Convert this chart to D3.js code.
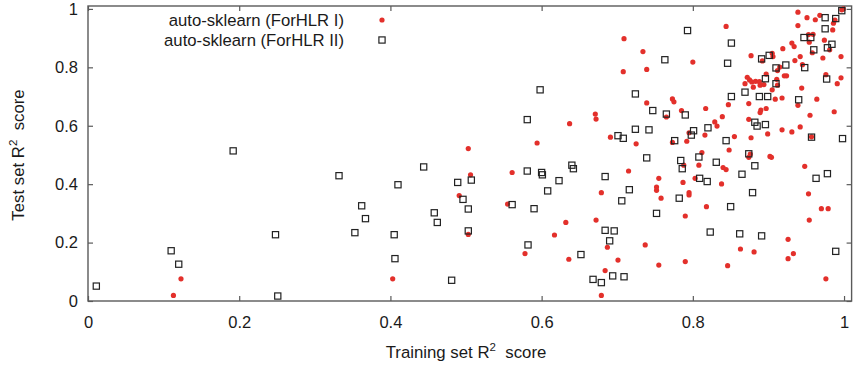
<!DOCTYPE html>
<html>
<head>
<meta charset="utf-8">
<script src="https://cdn.jsdelivr.net/npm/d3@7"></script>
<style>
  html, body { margin: 0; padding: 0; background: #fff; }
  svg { display: block; font-family: "Liberation Sans", Arial, sans-serif; }
</style>
</head>
<body>
<svg id="chart" width="857" height="365"></svg>
<script>
// ---- data ----
const seriesNames = ["auto-sklearn (ForHLR I)", "auto-sklearn (ForHLR II)"];
const tickValues = [0, 0.2, 0.4, 0.6, 0.8, 1];
const tickLabels = ["0", "0.2", "0.4", "0.6", "0.8", "1"];
const xTitle = ["Training set R", "2", " score"];
const yTitle = ["Test set R", "2", " score"];

// ForHLR I : [training R2, test R2]
const forhlr1 = [
  [0.123,0.076],[0.113,0.019],[0.594,0.541],[0.503,0.522],[0.506,0.432],[0.561,0.440],
  [0.491,0.361],[0.555,0.332],[0.503,0.228],[0.617,0.226],[0.578,0.162],[0.403,0.076],
  [0.709,0.898],[0.734,0.854],[0.800,0.818],[0.708,0.785],[0.739,0.793],[0.739,0.678],
  [0.773,0.692],[0.775,0.682],[0.785,0.652],[0.765,0.630],[0.671,0.640],[0.672,0.623],
  [0.637,0.607],[0.691,0.561],[0.725,0.538],[0.795,0.576],[0.773,0.543],[0.792,0.547],
  [0.788,0.465],[0.808,0.465],[0.715,0.445],[0.679,0.371],[0.755,0.420],[0.752,0.390],
  [0.752,0.379],[0.758,0.352],[0.787,0.406],[0.803,0.420],[0.795,0.371],[0.795,0.363],
  [0.790,0.291],[0.632,0.269],[0.672,0.277],[0.687,0.184],[0.737,0.192],[0.636,0.143],
  [0.701,0.140],[0.755,0.123],[0.790,0.135],[0.684,0.104],[0.679,0.019],[0.939,0.989],
  [0.951,0.970],[0.968,0.978],[0.962,0.963],[0.988,0.962],[0.986,0.951],[0.997,0.997],
  [0.999,1.000],[0.939,0.943],[0.985,0.928],[0.844,0.940],[0.877,0.840],[0.892,0.822],
  [0.905,0.848],[0.906,0.837],[0.953,0.912],[0.959,0.913],[0.954,0.886],[0.931,0.883],
  [0.934,0.871],[0.919,0.864],[0.958,0.850],[0.974,0.893],[0.981,0.860],[0.942,0.837],
  [0.972,0.832],[0.996,0.837],[0.935,0.823],[0.945,0.809],[0.915,0.801],[0.912,0.789],
  [0.897,0.777],[0.911,0.759],[0.924,0.771],[0.921,0.771],[0.976,0.775],[0.996,0.764],
  [0.991,0.744],[0.872,0.766],[0.875,0.757],[0.869,0.744],[0.878,0.750],[0.883,0.752],
  [0.880,0.732],[0.888,0.751],[0.889,0.739],[0.894,0.741],[0.912,0.739],[0.905,0.723],
  [0.944,0.729],[0.847,0.672],[0.909,0.691],[0.918,0.695],[0.964,0.691],[0.874,0.676],
  [0.817,0.659],[0.890,0.654],[0.889,0.645],[0.897,0.659],[0.839,0.631],[0.987,0.648],
  [0.955,0.636],[0.874,0.622],[0.829,0.613],[0.832,0.599],[0.816,0.568],[0.918,0.586],
  [0.931,0.579],[0.942,0.596],[0.957,0.562],[0.855,0.563],[0.877,0.559],[0.899,0.572],
  [0.848,0.517],[0.812,0.508],[0.876,0.503],[0.874,0.492],[0.902,0.495],[0.904,0.492],
  [0.948,0.461],[0.840,0.457],[0.844,0.450],[0.838,0.401],[0.953,0.367],[0.818,0.323],
  [0.970,0.316],[0.979,0.316],[0.954,0.277],[0.926,0.211],[0.863,0.178],[0.881,0.168],
  [0.933,0.162],[0.926,0.145],[0.846,0.121],[0.976,0.076],[0.939,0.670]
];

// ForHLR II : [training R2, test R2]
const forhlr2 = [
  [0.011,0.051],[0.110,0.172],[0.120,0.126],[0.192,0.514],[0.248,0.227],[0.251,0.017],
  [0.598,0.723],[0.581,0.621],[0.444,0.459],[0.332,0.429],[0.507,0.414],[0.489,0.406],
  [0.581,0.445],[0.600,0.440],[0.601,0.432],[0.623,0.412],[0.410,0.398],[0.496,0.348],
  [0.608,0.377],[0.362,0.326],[0.503,0.315],[0.561,0.330],[0.590,0.316],[0.458,0.302],
  [0.367,0.282],[0.462,0.269],[0.353,0.234],[0.405,0.227],[0.503,0.240],[0.582,0.192],
  [0.406,0.145],[0.481,0.071],[0.793,0.926],[0.763,0.826],[0.724,0.709],[0.747,0.652],
  [0.765,0.640],[0.790,0.637],[0.724,0.588],[0.742,0.586],[0.701,0.566],[0.708,0.557],
  [0.801,0.583],[0.798,0.568],[0.776,0.549],[0.739,0.490],[0.784,0.481],[0.808,0.493],
  [0.786,0.453],[0.640,0.465],[0.642,0.453],[0.684,0.426],[0.716,0.381],[0.706,0.343],
  [0.809,0.420],[0.782,0.352],[0.752,0.300],[0.684,0.242],[0.696,0.240],[0.690,0.206],
  [0.652,0.159],[0.668,0.074],[0.679,0.063],[0.694,0.086],[0.709,0.083],[0.975,0.970],
  [0.989,0.967],[0.997,0.994],[0.975,0.932],[0.851,0.883],[0.846,0.814],[0.891,0.829],
  [0.901,0.841],[0.947,0.902],[0.956,0.902],[0.960,0.860],[0.984,0.879],[0.978,0.867],
  [0.948,0.799],[0.923,0.808],[0.910,0.798],[0.896,0.761],[0.977,0.760],[0.910,0.744],
  [0.869,0.715],[0.851,0.700],[0.888,0.700],[0.899,0.700],[0.940,0.689],[0.882,0.612],
  [0.885,0.599],[0.896,0.604],[0.820,0.593],[0.957,0.561],[0.998,0.556],[0.844,0.549],
  [0.874,0.504],[0.978,0.436],[0.963,0.420],[0.831,0.475],[0.882,0.463],[0.865,0.434],
  [0.819,0.409],[0.879,0.371],[0.850,0.323],[0.823,0.236],[0.862,0.230],[0.891,0.223],
  [0.989,0.170]
];

// ---- drawing ----
const svg = d3.select("#chart");
const mLeft = 88, mRight = 851.6, mTop = 6, mBottom = 301;
const x = d3.scaleLinear().domain([0, 1.01]).range([mLeft, mRight]);
const y = d3.scaleLinear().domain([0, 1.01]).range([mBottom, mTop]);
const frameColor = "#5a5a5a";
const textColor = "#1a1a1a";
const redColor = "#e3302b";

// frame
svg.append("rect")
  .attr("x", mLeft).attr("y", mTop)
  .attr("width", mRight - mLeft).attr("height", mBottom - mTop)
  .attr("fill", "none").attr("stroke", frameColor).attr("stroke-width", 1.4);

const fmt = v => tickLabels[tickValues.indexOf(v)];

function styleAxis(g, showText) {
  g.select(".domain").remove();
  g.selectAll(".tick line").attr("stroke", frameColor).attr("stroke-width", 1.2);
  g.selectAll(".tick text")
    .attr("fill", textColor)
    .style("font-size", "16.5px")
    .style("display", showText ? null : "none");
}

svg.append("g").attr("transform", `translate(0,${mBottom})`)
  .call(d3.axisBottom(x).tickValues(tickValues).tickFormat(fmt).tickSizeInner(-5).tickSizeOuter(0).tickPadding(15))
  .call(g => styleAxis(g, true));
svg.append("g").attr("transform", `translate(0,${mTop})`)
  .call(d3.axisTop(x).tickValues(tickValues).tickFormat(fmt).tickSizeInner(-5).tickSizeOuter(0))
  .call(g => styleAxis(g, false));
svg.append("g").attr("transform", `translate(${mLeft},0)`)
  .call(d3.axisLeft(y).tickValues(tickValues).tickFormat(fmt).tickSizeInner(-5).tickSizeOuter(0).tickPadding(10))
  .call(g => styleAxis(g, true));
svg.append("g").attr("transform", `translate(${mRight},0)`)
  .call(d3.axisRight(y).tickValues(tickValues).tickFormat(fmt).tickSizeInner(-5).tickSizeOuter(0))
  .call(g => styleAxis(g, false));

// axis titles
function titleText(sel, parts) {
  sel.append("tspan").text(parts[0]);
  sel.append("tspan").attr("dy", -7).style("font-size", "11.5px").text(parts[1]);
  sel.append("tspan").attr("dy", 7).text("\u00a0" + parts[2]);
}
svg.append("text")
  .attr("x", 466).attr("y", 358)
  .attr("text-anchor", "middle").attr("fill", textColor)
  .style("font-size", "16.8px")
  .call(s => titleText(s, xTitle));
svg.append("text")
  .attr("transform", "translate(24,155) rotate(-90)")
  .attr("text-anchor", "middle").attr("fill", textColor)
  .style("font-size", "16.8px")
  .call(s => titleText(s, yTitle));

// points
const plot = svg.append("g");
plot.selectAll("circle.s1").data(forhlr1).join("circle")
  .attr("class", "s1")
  .attr("cx", d => x(d[0])).attr("cy", d => y(d[1]))
  .attr("r", 2.6).attr("fill", redColor);
const sq = 6.2;
plot.selectAll("rect.s2").data(forhlr2).join("rect")
  .attr("class", "s2")
  .attr("x", d => x(d[0]) - sq / 2).attr("y", d => y(d[1]) - sq / 2)
  .attr("width", sq).attr("height", sq)
  .attr("fill", "none").attr("stroke", "#222").attr("stroke-width", 1.2);

// legend
const legend = svg.append("g");
const legendRows = [20, 40];
seriesNames.forEach((name, i) => {
  legend.append("text")
    .attr("x", 344).attr("y", legendRows[i] + 5.8)
    .attr("text-anchor", "end").attr("fill", textColor)
    .style("font-size", "16.7px")
    .text(name);
});
legend.append("circle").attr("cx", 382).attr("cy", legendRows[0]).attr("r", 2.6).attr("fill", redColor);
legend.append("rect").attr("x", 382 - sq / 2).attr("y", legendRows[1] - sq / 2)
  .attr("width", sq).attr("height", sq)
  .attr("fill", "none").attr("stroke", "#222").attr("stroke-width", 1.2);
</script>
</body>
</html>
